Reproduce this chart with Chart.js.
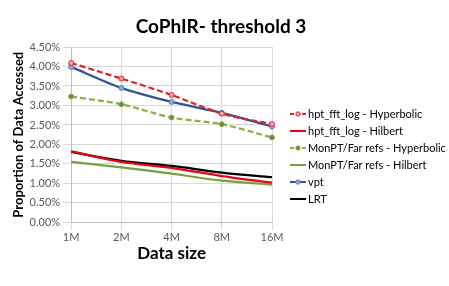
<!DOCTYPE html>
<html>
<head>
<meta charset="utf-8">
<script src="https://cdn.jsdelivr.net/npm/chart.js@4/dist/chart.umd.min.js"></script>
<style>
  html, body { margin: 0; padding: 0; background: #fff; }
  #wrap { width: 449px; height: 286px; position: relative; }
  #title { position: absolute; left: 0; width: 442px; top: 15px; text-align: center;
           font-family: Lato, "Open Sans", sans-serif; font-weight: bold; font-size: 19px; color: #000;
           line-height: 22px; }
  #legend { position: absolute; left: 290px; top: 105px; font-family: Lato, "Open Sans", sans-serif;
            font-size: 11px; color: #000; }
  .item { height: 17px; line-height: 17px; white-space: nowrap; display: flex; align-items: center; }
  .item svg { margin-right: 2px; flex: none; }
</style>
</head>
<body>
<div id="wrap"><canvas id="chart"></canvas><div id="title">CoPhIR- threshold 3</div><div id="legend"></div></div>
<script>
// data
const sizes = ['1M', '2M', '4M', '8M', '16M'];
const hptHyperbolic = [4.09, 3.69, 3.27, 2.79, 2.52];
const hptHilbert = [1.82, 1.55, 1.40, 1.19, 1.02];
const monHyperbolic = [3.23, 3.03, 2.69, 2.52, 2.18];
const monHilbert = [1.55, 1.41, 1.25, 1.07, 0.97];
const vpt = [3.99, 3.45, 3.09, 2.81, 2.46];
const lrt = [1.81, 1.58, 1.45, 1.28, 1.16];

Chart.defaults.font.family = 'Lato, "Open Sans", sans-serif';
Chart.defaults.color = '#595959';

function series(label, data, color, opts) {
  return Object.assign({
    label: label,
    data: data,
    borderColor: color,
    backgroundColor: color,
    borderWidth: 2.25,
    tension: 0.3,
    pointRadius: 0
  }, opts || {});
}

const datasets = [
  series('hpt_fft_log - Hyperbolic', hptHyperbolic, '#D9262C', {
    borderDash: [6, 3], pointRadius: 2.5, pointBorderWidth: 1,
    pointBackgroundColor: '#F4A6A6', pointBorderColor: '#D9262C'
  }),
  series('hpt_fft_log - Hilbert', hptHilbert, '#E30613'),
  series('MonPT/Far refs - Hyperbolic', monHyperbolic, '#8DB04A', {
    borderDash: [6, 3], pointRadius: 2.5, pointBorderWidth: 1,
    pointBackgroundColor: '#6E8B3D', pointBorderColor: '#8DB04A'
  }),
  series('MonPT/Far refs - Hilbert', monHilbert, '#76A03A'),
  series('vpt', vpt, '#2E5597', {
    pointRadius: 2.5, pointBorderWidth: 1,
    pointBackgroundColor: '#8EA9DB', pointBorderColor: '#5B7FBF'
  }),
  series('LRT', lrt, '#000000')
];

const ctx = document.getElementById('chart').getContext('2d');
new Chart(ctx, {
  type: 'line',
  data: { labels: sizes, datasets: datasets },
  options: {
    responsive: true,
    maintainAspectRatio: false,
    animation: false,
    layout: { padding: { top: 47, right: 177, bottom: 18, left: 7 } },
    plugins: {
      title: { display: false },
      legend: { display: false },
      tooltip: { enabled: false }
    },
    scales: {
      x: {
        offset: false,
        grid: { color: '#D9D9D9' },
        border: { color: '#BFBFBF' },
        ticks: { font: { size: 11 }, padding: 0 },
        title: {
          display: true, text: 'Data size', color: '#000',
          font: { size: 17, weight: 'bold' }, padding: { top: 0 }
        }
      },
      y: {
        min: 0,
        max: 4.5,
        grid: { color: '#D9D9D9' },
        border: { color: '#BFBFBF' },
        ticks: {
          stepSize: 0.5,
          font: { size: 11 },
          callback: function (v) { return v.toFixed(2) + '%'; }
        },
        title: {
          display: true, text: 'Proportion of Data Accessed', color: '#000',
          font: { size: 13, weight: 'bold' }, padding: { bottom: 0 }
        }
      }
    }
  }
});

// legend as html, built from the datasets
const legend = document.getElementById('legend');
datasets.forEach(function (ds) {
  const row = document.createElement('div');
  row.className = 'item';
  const dash = ds.borderDash ? 'stroke-dasharray="4 2"' : '';
  let svg = '<svg width="16" height="8"><line x1="0" y1="4" x2="16" y2="4" stroke="' + ds.borderColor +
    '" stroke-width="2" ' + dash + '/>';
  if (ds.pointRadius) {
    svg += '<circle cx="8" cy="4" r="2.2" fill="' + ds.pointBackgroundColor + '" stroke="' +
      ds.pointBorderColor + '" stroke-width="1"/>';
  }
  svg += '</svg>';
  row.innerHTML = svg + '<span></span>';
  row.querySelector('span').textContent = ds.label;
  legend.appendChild(row);
});
</script>
</body>
</html>
